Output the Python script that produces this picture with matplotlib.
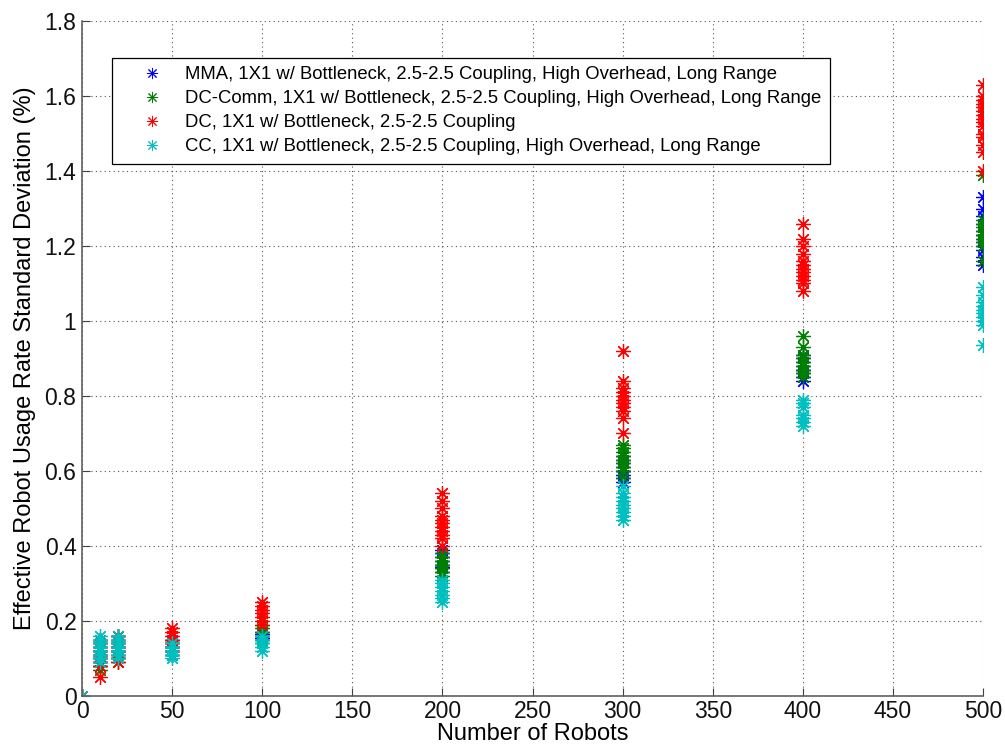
import matplotlib
matplotlib.use("Agg")
import matplotlib.pyplot as plt
import numpy as np

plt.rcParams['font.family'] = ['Liberation Sans', 'DejaVu Sans']

robot_counts = [0, 10, 20, 50, 100, 200, 300, 400, 500]

mma = {
    0: [0.0],
    10: [0.08, 0.09, 0.10, 0.11, 0.12, 0.13, 0.14, 0.15, 0.12, 0.11],
    20: [0.10, 0.11, 0.12, 0.13, 0.14, 0.15, 0.16, 0.12, 0.13],
    50: [0.11, 0.12, 0.13, 0.14, 0.15, 0.12, 0.13],
    100: [0.15, 0.155, 0.16, 0.165, 0.17],
    200: [0.33, 0.34, 0.345, 0.35, 0.36, 0.37, 0.38, 0.39],
    300: [0.57, 0.58, 0.59, 0.60, 0.60, 0.61, 0.62, 0.63, 0.64],
    400: [0.84, 0.85, 0.86, 0.87, 0.87, 0.88, 0.89, 0.90, 0.91],
    500: [1.15, 1.17, 1.19, 1.20, 1.21, 1.22, 1.23, 1.24, 1.26, 1.28, 1.30, 1.33],
}
dc_comm = {
    0: [0.0],
    10: [0.07, 0.08, 0.09, 0.10, 0.11, 0.12, 0.13, 0.14, 0.15],
    20: [0.09, 0.10, 0.11, 0.12, 0.13, 0.14, 0.15, 0.16],
    50: [0.11, 0.12, 0.13, 0.14, 0.15],
    100: [0.14, 0.15, 0.16, 0.17, 0.18, 0.19],
    200: [0.32, 0.33, 0.34, 0.35, 0.35, 0.36, 0.37, 0.38],
    300: [0.58, 0.60, 0.61, 0.62, 0.63, 0.64, 0.65, 0.66, 0.67],
    400: [0.85, 0.86, 0.87, 0.88, 0.89, 0.90, 0.91, 0.93, 0.96],
    500: [1.16, 1.20, 1.21, 1.22, 1.23, 1.23, 1.24, 1.25, 1.26, 1.27, 1.39],
}
dc = {
    0: [0.0],
    10: [0.05, 0.08, 0.09, 0.10, 0.11, 0.12, 0.13, 0.14, 0.15],
    20: [0.09, 0.10, 0.12, 0.13, 0.14, 0.15, 0.16],
    50: [0.12, 0.13, 0.14, 0.15, 0.16, 0.17, 0.18],
    100: [0.19, 0.20, 0.21, 0.22, 0.23, 0.24, 0.25],
    200: [0.40, 0.42, 0.43, 0.44, 0.45, 0.46, 0.47, 0.48, 0.50, 0.52, 0.54],
    300: [0.70, 0.74, 0.76, 0.77, 0.78, 0.79, 0.80, 0.81, 0.82, 0.84, 0.92],
    400: [1.08, 1.10, 1.11, 1.12, 1.13, 1.14, 1.15, 1.16, 1.18, 1.20, 1.22, 1.26],
    500: [1.40, 1.45, 1.47, 1.49, 1.50, 1.52, 1.53, 1.54, 1.55, 1.56, 1.57, 1.58, 1.59, 1.60, 1.63],
}
cc = {
    0: [0.0],
    10: [0.09, 0.10, 0.11, 0.12, 0.13, 0.14, 0.15, 0.16],
    20: [0.10, 0.11, 0.12, 0.13, 0.14, 0.15, 0.16],
    50: [0.10, 0.11, 0.12, 0.13, 0.14],
    100: [0.12, 0.13, 0.14, 0.15, 0.16],
    200: [0.25, 0.26, 0.27, 0.28, 0.29, 0.30, 0.31],
    300: [0.47, 0.48, 0.49, 0.50, 0.51, 0.52, 0.53, 0.54, 0.56],
    400: [0.72, 0.73, 0.74, 0.75, 0.77, 0.78, 0.79],
    500: [0.935, 0.99, 1.00, 1.01, 1.02, 1.03, 1.04, 1.05, 1.07, 1.09],
}

series = [
    ("MMA, 1X1 w/ Bottleneck, 2.5-2.5 Coupling, High Overhead, Long Range", mma, "#0000ff"),
    ("DC-Comm, 1X1 w/ Bottleneck, 2.5-2.5 Coupling, High Overhead, Long Range", dc_comm, "#008000"),
    ("DC, 1X1 w/ Bottleneck, 2.5-2.5 Coupling", dc, "#ff0000"),
    ("CC, 1X1 w/ Bottleneck, 2.5-2.5 Coupling, High Overhead, Long Range", cc, "#00bfbf"),
]

x_ticks = [0, 50, 100, 150, 200, 250, 300, 350, 400, 450, 500]
y_ticks = [0, 0.2, 0.4, 0.6, 0.8, 1.0, 1.2, 1.4, 1.6, 1.8]
y_tick_labels = ["0", "0.2", "0.4", "0.6", "0.8", "1", "1.2", "1.4", "1.6", "1.8"]

fig = plt.figure(figsize=(10.05, 7.56), dpi=100)
ax = fig.add_axes([0.0816, 0.0794, 0.8966, 0.8928])

asterisk = (8, 2, 0)
handles = []
for label, data, color in series:
    xs = []
    ys = []
    for n in robot_counts:
        for v in data[n]:
            xs.append(n)
            ys.append(v)
    h, = ax.plot(xs, ys, linestyle='none', marker=asterisk, markersize=10.5,
                 markeredgewidth=0.9, color=color, label=label)
    handles.append(h)

ax.set_xlim(0, 500)
ax.set_ylim(0, 1.8)
ax.set_xticks(x_ticks)
ax.set_xticklabels([str(t) for t in x_ticks])
ax.set_yticks(y_ticks)
ax.set_yticklabels(y_tick_labels)
ax.tick_params(axis='both', direction='in', length=6, labelsize=16.5, colors='#111111')
ax.tick_params(axis='x', pad=3)
ax.tick_params(axis='y', pad=4)
ax.tick_params(axis='both', color='#404040')
ax.grid(True, linestyle=(0, (1, 3)), color='#555555', linewidth=0.8)
for s in ['top', 'right']:
    ax.spines[s].set_visible(False)
for s in ['left', 'bottom']:
    ax.spines[s].set_color('#606060')
    ax.spines[s].set_linewidth(1.2)
ax.set_axisbelow(True)

ax.set_xlabel("Number of Robots", fontsize=17, labelpad=0)
ax.set_ylabel("Effective Robot Usage Rate Standard Deviation (%)", fontsize=17, labelpad=6)

leg = ax.legend(handles=handles, loc='upper left', bbox_to_anchor=(112 / 1005, 1 - 58 / 756),
                bbox_transform=fig.transFigure, fontsize=13.3, frameon=True, fancybox=False,
                edgecolor='black', framealpha=1, handlelength=3.4, handletextpad=0.1,
                borderpad=0.45, labelspacing=0.38, numpoints=1, borderaxespad=0)
leg.get_frame().set_linewidth(0.9)
for lh in leg.legend_handles:
    lh.set_markersize(8)
    lh.set_markeredgewidth(0.7)

fig.savefig("out.png", dpi=100)
